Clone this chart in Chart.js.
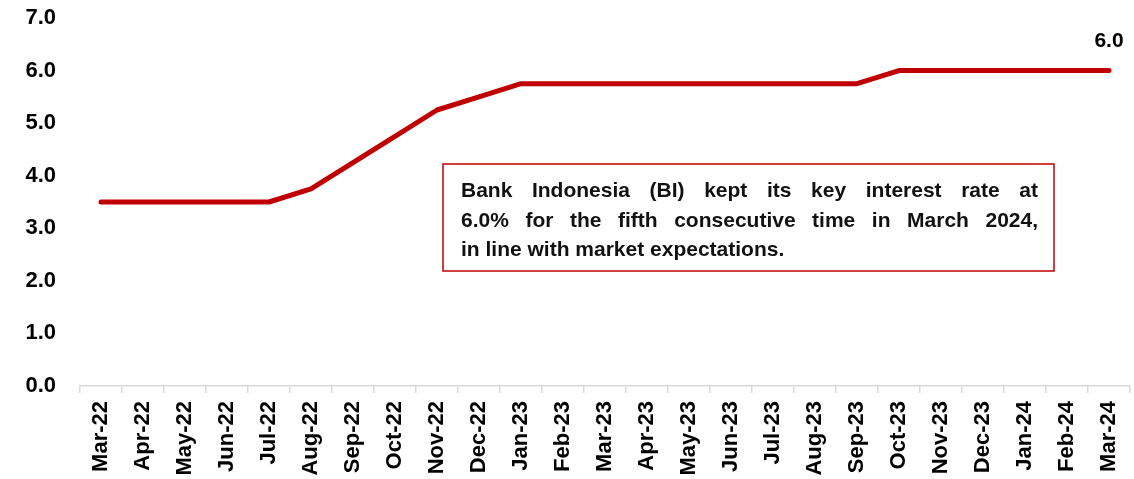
<!DOCTYPE html>
<html>
<head>
<meta charset="utf-8">
<script src="https://cdn.jsdelivr.net/npm/chart.js@4/dist/chart.umd.min.js"></script>
<style>
    html, body { margin: 0; padding: 0; background: #fff; }
    #wrap { width: 1134px; height: 479px; position: relative; }
</style>
</head>
<body>
<div id="wrap"><canvas id="chart"></canvas></div>
<script>
// BI 7-day reverse repo rate, monthly
const months = ['Mar-22', 'Apr-22', 'May-22', 'Jun-22', 'Jul-22', 'Aug-22', 'Sep-22', 'Oct-22', 'Nov-22',
    'Dec-22', 'Jan-23', 'Feb-23', 'Mar-23', 'Apr-23', 'May-23', 'Jun-23', 'Jul-23', 'Aug-23', 'Sep-23',
    'Oct-23', 'Nov-23', 'Dec-23', 'Jan-24', 'Feb-24', 'Mar-24'];
const rate = [3.5, 3.5, 3.5, 3.5, 3.5, 3.75, 4.25, 4.75, 5.25, 5.5, 5.75, 5.75, 5.75, 5.75, 5.75, 5.75,
    5.75, 5.75, 5.75, 6.0, 6.0, 6.0, 6.0, 6.0, 6.0];
const yTicks = [0, 1, 2, 3, 4, 5, 6, 7];

const noteLines = [
    'Bank Indonesia (BI) kept its key interest rate at',
    '6.0% for the fifth consecutive time in March 2024,',
    'in line with market expectations.'
];

const RED = '#c00000';
const FONT = 'Arial, "Liberation Sans", sans-serif';

/**
 * Подпись последнего значения над линией.
 */
const lastLabel = {
    id: 'lastLabel',
    afterDatasetsDraw(chart) {
        const meta = chart.getDatasetMeta(0);
        const i = rate.length - 1;
        const pt = meta.data[i];
        const ctx = chart.ctx;
        ctx.save();
        ctx.font = 'bold 21px ' + FONT;
        ctx.fillStyle = '#000';
        ctx.textAlign = 'center';
        ctx.textBaseline = 'middle';
        ctx.fillText(rate[i].toFixed(1), pt.x, pt.y - 29);
        ctx.restore();
    }
};

/**
 * Рамка с комментарием, текст выровнен по ширине.
 */
const noteBox = {
    id: 'noteBox',
    afterDatasetsDraw(chart) {
        const ctx = chart.ctx;
        const box = {x: 443, y: 164, w: 611, h: 107};
        ctx.save();
        ctx.fillStyle = '#fff';
        ctx.fillRect(box.x, box.y, box.w, box.h);
        ctx.strokeStyle = RED;
        ctx.lineWidth = 1.5;
        ctx.strokeRect(box.x, box.y, box.w, box.h);

        ctx.font = 'bold 21px ' + FONT;
        ctx.fillStyle = '#111';
        ctx.textBaseline = 'alphabetic';
        const left = 461;
        const width = 577;
        const lineY = [197, 227, 256];
        noteLines.forEach((line, n) => {
            const words = line.split(' ');
            if (n === noteLines.length - 1) {
                ctx.fillText(line, left, lineY[n]);
                return;
            }
            const used = words.reduce((s, w) => s + ctx.measureText(w).width, 0);
            const gap = (width - used) / (words.length - 1);
            let x = left;
            words.forEach((w) => {
                ctx.fillText(w, x, lineY[n]);
                x += ctx.measureText(w).width + gap;
            });
        });
        ctx.restore();
    }
};

new Chart(document.getElementById('chart'), {
    type: 'line',
    data: {
        labels: months,
        datasets: [{
            data: rate,
            borderColor: RED,
            borderWidth: 5,
            borderCapStyle: 'round',
            borderJoinStyle: 'round',
            pointRadius: 0,
            tension: 0
        }]
    },
    options: {
        responsive: true,
        maintainAspectRatio: false,
        animation: false,
        layout: {padding: {top: 18, right: 4, left: 0, bottom: 0}},
        plugins: {
            legend: {display: false},
            tooltip: {enabled: false}
        },
        scales: {
            x: {
                offset: true,
                grid: {
                    offset: true,
                    drawOnChartArea: false,
                    drawTicks: true,
                    tickLength: 7,
                    color: '#d9d9d9',
                    lineWidth: 1.5
                },
                border: {display: true, color: '#d9d9d9', width: 1.5},
                ticks: {
                    autoSkip: false,
                    minRotation: 90,
                    maxRotation: 90,
                    padding: 8,
                    color: '#000',
                    font: {family: FONT, size: 22, weight: 'bold'}
                },
                afterFit: (scale) => {
                    scale.height = 93;
                    scale.paddingLeft = scale.paddingRight = 0;
                }
            },
            y: {
                min: 0,
                max: 7,
                afterBuildTicks: (scale) => { scale.ticks = yTicks.map((v) => ({value: v})); },
                grid: {display: false, drawTicks: false},
                border: {display: false},
                ticks: {
                    padding: 24,
                    color: '#000',
                    font: {family: FONT, size: 22, weight: 'bold'},
                    callback: (v) => Number(v).toFixed(1)
                },
                afterFit: (scale) => {
                    scale.width = 80;
                    scale.paddingTop = scale.paddingBottom = 0;
                }
            }
        }
    },
    plugins: [lastLabel, noteBox]
});
</script>
</body>
</html>
